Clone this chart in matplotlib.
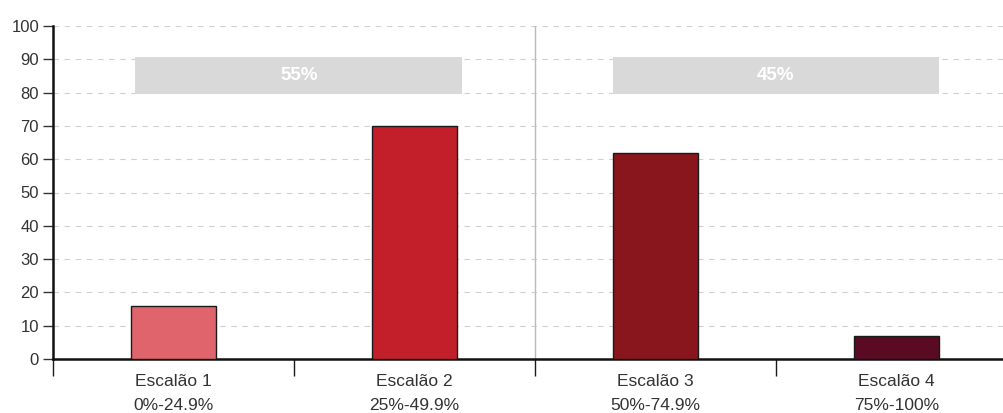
import numpy as np
import matplotlib
matplotlib.use("Agg")
import matplotlib.pyplot as plt
from matplotlib.patches import Rectangle

plt.rcParams['font.family'] = ['Liberation Sans', 'DejaVu Sans']

escaloes = ['Escalão 1', 'Escalão 2', 'Escalão 3', 'Escalão 4']
intervalos = ['0%-24.9%', '25%-49.9%', '50%-74.9%', '75%-100%']
valores = [16, 70, 62, 7]
cores = ['#E0646B', '#C21F2A', '#89161D', '#5A0A22']

# group shares shown in the grey bands (first two / last two escalões)
grupos = ['55%', '45%']
centros_grupo = [0.52, 2.50]

fig = plt.figure(figsize=(10.04, 4.13), dpi=100)
ax = fig.add_axes([53/1004, 54/413, 1 - 53/1004, 333/413])

x = np.arange(len(valores))
ax.bar(x, valores, width=0.35, color=cores, edgecolor='#1a1a1a', linewidth=1, zorder=3)

for c, txt in zip(centros_grupo, grupos):
    ax.add_patch(Rectangle((c - 0.678, 79.5), 1.356, 11.2, facecolor='#d9d9d9',
                           edgecolor='none', zorder=2))
    ax.text(c, 85.1, txt, color='white', fontsize=13.5, fontweight='bold',
            ha='center', va='center', zorder=4)

ax.axvline(1.5, color='#bbbbbb', linewidth=1, zorder=1)

ax.set_ylim(0, 100)
ax.set_xlim(-0.5, (1004 - 53) / 241 - 0.5)
ax.set_yticks(np.arange(0, 101, 10))
ax.yaxis.grid(True, linestyle=(0, (5, 5)), color='#d0d0d0', linewidth=0.8, zorder=0)
ax.set_axisbelow(True)

ax.set_xticks([-0.5, 0.5, 1.5, 2.5])
ax.set_xticklabels([])
ax.set_xticks(x, minor=True)
ax.set_xticklabels([f'{e}\n{i}' for e, i in zip(escaloes, intervalos)], minor=True,
                   linespacing=1.75)
ax.tick_params(axis='x', which='major', length=12, width=1, color='#1a1a1a')
ax.tick_params(axis='x', which='minor', length=0, pad=11, labelsize=12.5, labelcolor='#333333')
ax.tick_params(axis='y', length=7, width=1, color='#333333', labelsize=12,
               labelcolor='#333333', pad=3)

for s in ['top', 'right']:
    ax.spines[s].set_visible(False)
ax.spines['left'].set_linewidth(1.8)
ax.spines['bottom'].set_linewidth(1.8)
ax.spines['left'].set_color('#111111')
ax.spines['bottom'].set_color('#111111')

fig.savefig('out.png', dpi=100)
